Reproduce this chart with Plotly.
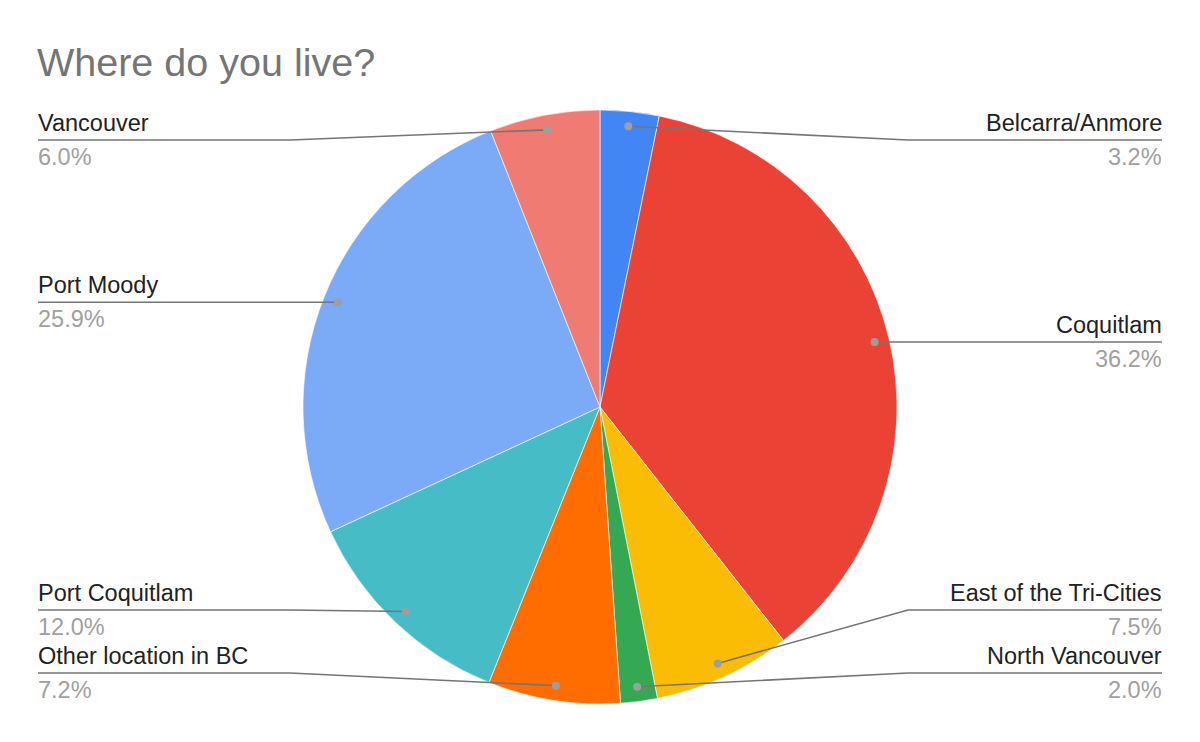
import math
import plotly.graph_objects as go

W, H = 1200, 742
OFF = 8  # page body margin, the figure sits 8px in from the window corner

# data
places = ["Belcarra/Anmore", "Coquitlam", "East of the Tri-Cities", "North Vancouver",
          "Other location in BC", "Port Coquitlam", "Port Moody", "Vancouver"]
shares = [3.2, 36.2, 7.5, 2.0, 7.2, 12.0, 25.9, 6.0]
colors = ["#4285F4", "#EA4335", "#FBBC04", "#34A853",
          "#FF6D01", "#46BDC6", "#7BAAF7", "#F07B72"]

# pie geometry in window pixels
CX, CY, R = 600, 407, 297
DOT_R = 0.95 * R
FONT = "Arial, Liberation Sans, sans-serif"


def px(x):
    return (x - OFF) / W


def py(y):
    return 1 - (y - OFF) / H


fig = go.Figure()
fig.add_trace(
    go.Pie(
        labels=places,
        values=shares,
        sort=False,
        direction="clockwise",
        rotation=0,
        textinfo="none",
        hoverinfo="label+percent",
        marker=dict(colors=colors, line=dict(color="white", width=0.6)),
        domain=dict(x=[px(CX - R), px(CX + R)], y=[py(CY + R), py(CY - R)]),
        showlegend=False,
    )
)

# leader lines: dot positions from slice mid angles
total = sum(shares)
cum = 0
items = []
for name, v in zip(places, shares):
    mid = (cum + v / 2) / total * 2 * math.pi
    cum += v
    dx, dy = CX + DOT_R * math.sin(mid), CY - DOT_R * math.cos(mid)
    side = "right" if math.sin(mid) >= 0 else "left"
    items.append(dict(name=name, pct=v, dx=dx, dy=dy, side=side))

Y_MIN, Y_MAX, GAP = 140, 673, 63
for side in ("left", "right"):
    grp = sorted([it for it in items if it["side"] == side], key=lambda it: it["dy"])
    for it in grp:
        it["ly"] = min(max(it["dy"], Y_MIN), Y_MAX)
    for i in range(len(grp) - 2, -1, -1):
        if grp[i + 1]["ly"] - grp[i]["ly"] < GAP:
            grp[i]["ly"] = grp[i + 1]["ly"] - GAP

shapes = []
annotations = []
for it in items:
    if it["side"] == "right":
        knee, end, anchor, tx = 908, 1162, "right", 1164
    else:
        knee, end, anchor, tx = 290, 38, "left", 36
    path = "M {:.4f} {:.4f} L {:.4f} {:.4f} L {:.4f} {:.4f}".format(
        px(it["dx"]), py(it["dy"]), px(knee), py(it["ly"]), px(end), py(it["ly"]))
    shapes.append(dict(type="path", path=path, xref="paper", yref="paper",
                       line=dict(color="#757575", width=1.6), layer="above"))
    shapes.append(dict(type="circle", xref="paper", yref="paper",
                       x0=px(it["dx"] - 4), x1=px(it["dx"] + 4),
                       y0=py(it["dy"] + 4), y1=py(it["dy"] - 4),
                       fillcolor="#9E9E9E", line=dict(width=0), layer="above"))
    annotations.append(dict(text=it["name"], x=px(tx), y=py(it["ly"] - 2),
                            xref="paper", yref="paper", xanchor=anchor, yanchor="bottom",
                            showarrow=False, font=dict(family=FONT, size=23.5, color="#222222")))
    annotations.append(dict(text="{:.1f}%".format(it["pct"]), x=px(tx), y=py(it["ly"] + 2),
                            xref="paper", yref="paper", xanchor=anchor, yanchor="top",
                            showarrow=False, font=dict(family=FONT, size=23.5, color="#A0A0A0")))

fig.update_layout(
    width=W,
    height=H,
    margin=dict(l=0, r=0, t=0, b=0),
    paper_bgcolor="white",
    plot_bgcolor="white",
    title=dict(text="Where do you live?", x=px(37), xanchor="left", xref="paper",
               y=py(62), yanchor="middle", yref="container",
               font=dict(family=FONT, size=39.5, color="#757575")),
    shapes=shapes,
    annotations=annotations,
)

fig.write_html("out.html")
